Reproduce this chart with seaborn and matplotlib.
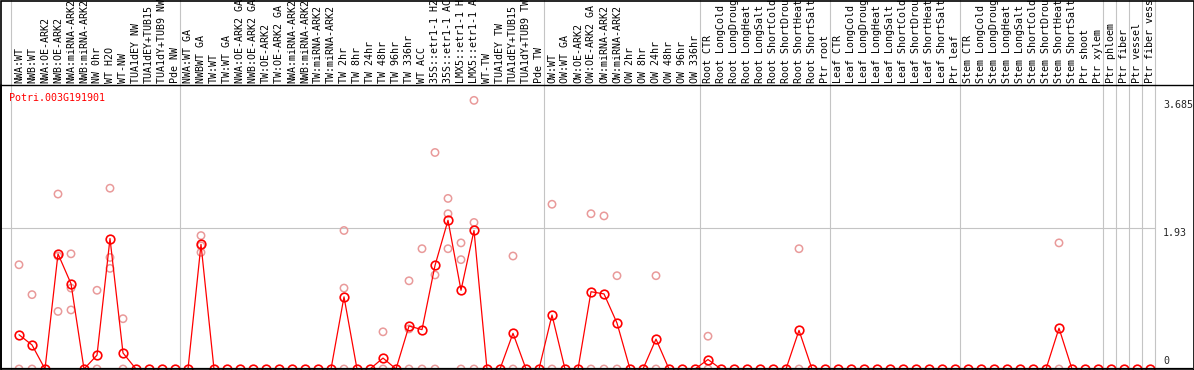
import seaborn as sns
import pandas as pd
import numpy as np
import matplotlib.pyplot as plt
from matplotlib import transforms

sns.set_style("white")
plt.rcParams['font.family'] = ['DejaVu Sans Mono']

# ============ data ============
gene = "Potri.003G191901"

labels = ["NWA:WT", "NWB:WT", "NWA:OE-ARK2", "NWB:OE-ARK2", "NWA:miRNA-ARK2",
          "NWB:miRNA-ARK2", "NW 0hr", "WT H2O", "WT-NW", "TUA1dEY NW",
          "TUA1dEY+TUB15", "TUA1dY+TUB9 NW", "Pde NW",
          "NWA:WT GA", "NWBWT GA", "TW:WT", "TW:WT GA", "NWA:OE-ARK2 GA",
          "NWB:OE-ARK2 GA", "TW:OE-ARK2", "TW:OE-ARK2 GA", "NWA:miRNA-ARK2",
          "NWB:miRNA-ARK2", "TW:miRNA-ARK2", "TW:miRNA-ARK2",
          "TW 2hr", "TW 8hr", "TW 24hr", "TW 48hr", "TW 96hr", "TW 336hr",
          "WT ACC", "35S::etr1-1 H2O", "35S::etr1-1 ACC", "LMX5::etr1-1 H2O",
          "LMX5::etr1-1 ACC", "WT-TW", "TUA1dEY TW", "TUA1dEY+TUB15",
          "TUA1dY+TUB9 TW", "Pde TW",
          "OW:WT", "OW:WT GA", "OW:OE-ARK2", "OW:OE-ARK2 GA", "OW:miRNA-ARK2",
          "OW:miRNA-ARK2", "OW 2hr", "OW 8hr", "OW 24hr", "OW 48hr", "OW 96hr",
          "OW 336hr",
          "Root CTR", "Root LongCold", "Root LongDrought", "Root LongHeat",
          "Root LongSalt", "Root ShortCold", "Root ShortDrought", "Root ShortHeat",
          "Root ShortSalt", "Ptr root",
          "Leaf CTR", "Leaf LongCold", "Leaf LongDrought", "Leaf LongHeat",
          "Leaf LongSalt", "Leaf ShortCold", "Leaf ShortDrought", "Leaf ShortHeat",
          "Leaf ShortSalt", "Ptr leaf",
          "Stem CTR", "Stem LongCold", "Stem LongDrought", "Stem LongHeat",
          "Stem LongSalt", "Stem ShortCold", "Stem ShortDrought", "Stem ShortHeat",
          "Stem ShortSalt", "Ptr shoot",
          "Ptr xylem", "Ptr phloem", "Ptr fiber", "Ptr vessel", "Ptr fiber vessel"]

means = [0.47, 0.33, 0, 1.58, 1.17, 0, 0.19, 1.79, 0.22, 0, 0, 0, 0,
         0, 1.71, 0, 0, 0, 0, 0, 0, 0, 0, 0, 0,
         0.99, 0, 0, 0.15, 0, 0.59, 0.54, 1.42, 2.04, 1.08, 1.90, 0, 0, 0.49, 0, 0,
         0.74, 0, 0, 1.06, 1.03, 0.63, 0, 0, 0.41, 0, 0, 0,
         0.13, 0, 0, 0, 0, 0, 0, 0.53, 0, 0,
         0, 0, 0, 0, 0, 0, 0, 0, 0, 0,
         0, 0, 0, 0, 0, 0, 0, 0.56, 0, 0,
         0, 0, 0, 0, 0]

# replicate values (column number, 1-based)
rep_cols = [1, 1, 2, 2, 4, 4, 4, 5, 5, 5, 7, 7, 8, 8, 8, 9, 9,
            15, 15, 15, 26, 26, 26, 29, 29, 31, 31, 31, 32, 32,
            33, 33, 33, 34, 34, 34, 35, 35, 35, 36, 36, 36, 39, 39,
            42, 42, 45, 45, 46, 46, 47, 47, 50, 50, 54, 54, 61, 61, 81, 81]
rep_vals = [1.43, 0, 1.02, 0, 2.40, 1.55, 0.79, 1.58, 1.11, 0.81, 1.08, 0,
            2.48, 1.53, 1.38, 0.69, 0,
            1.83, 1.69, 1.60, 1.90, 1.11, 0, 0.51, 0, 1.21, 0.55, 0, 1.65, 0,
            2.97, 1.29, 0, 2.34, 2.13, 1.65, 1.73, 1.50, 0, 3.685, 2.01, 0,
            1.55, 0, 2.26, 0, 2.13, 0, 2.10, 0, 1.28, 0, 1.28, 0, 0.45, 0,
            1.65, 0, 1.73, 0]

# last column (1-based) of each group
group_ends = [13, 41, 53, 63, 73, 84, 85, 86, 87, 88]
yvals = [0, 1.93, 3.685]

mean_df = pd.DataFrame({'pos': np.arange(len(means)), 'value': means})
rep_df = pd.DataFrame({'pos': np.array(rep_cols) - 1, 'value': rep_vals})

# ============ figure ============
W, H = 1194, 370
fig = plt.figure(figsize=(W / 100, H / 100), dpi=100)
top_px, bot_px = 85, 369
ax = fig.add_axes([1 / W, 1 - bot_px / H, 1192 / W, (bot_px - top_px) / H])

col0, step = 19, 13
ax.set_xlim((1 - col0) / step, (1193 - col0) / step)
ppu = 72.9
ax.set_ylim(0, (bot_px - top_px) / ppu)

grey = '#c4c4c4'
head = 1 + top_px / (bot_px - top_px)
sep_x = [-0.65] + [g - 1 + 0.4 for g in group_ends]
for sx in sep_x:
    ax.axvline(sx, 0, head, color=grey, lw=0.8, clip_on=False, zorder=0)
ax.hlines(yvals[1], ax.get_xlim()[0], sep_x[-1], color=grey, lw=0.8, zorder=0)

sns.scatterplot(data=rep_df, x='pos', y='value', ax=ax, marker='o', s=28,
                facecolor='none', edgecolor='#e99a9a', linewidth=1.1,
                zorder=2, legend=False)
sns.lineplot(data=mean_df, x='pos', y='value', ax=ax, color='red', lw=0.9,
             marker='o', markersize=6.2, markerfacecolor='none',
             markeredgecolor='red', markeredgewidth=1.2, zorder=3)

# header labels (long ones run off the top edge, as in the original)
tr = transforms.blended_transform_factory(ax.transData, ax.transAxes)
for i, lab in enumerate(labels):
    ax.text(i, 1 + 2 / (bot_px - top_px), lab, transform=tr, rotation=90,
            ha='center', va='bottom', fontsize=7.2, color='black')
ax.axhline(ax.get_ylim()[1], color='black', lw=1, clip_on=False)

# right value labels
xr = (1163 - col0) / step
ax.text(xr, yvals[2], "3.685", ha='left', va='top', fontsize=7.2)
ax.text(xr, yvals[1], "1.93", ha='left', va='top', fontsize=7.2)
ax.text(xr, yvals[0] + 0.04, "0", ha='left', va='bottom', fontsize=7.2)

ax.text(8 / 1192, 1 - 8 / (bot_px - top_px), gene, transform=ax.transAxes,
        ha='left', va='top', fontsize=7.2, color='red')

ax.set_xlabel('')
ax.set_ylabel('')
ax.set_xticks([])
ax.set_yticks([])
for s in ['top', 'right', 'left', 'bottom']:
    ax.spines[s].set_visible(False)
ax.axvline(ax.get_xlim()[0], color='black', lw=1.2, clip_on=False)
ax.axhline(0, color='black', lw=1.6, zorder=4)

# outer frame
fig.patches.append(plt.Rectangle((0.5 / W, 0.5 / H), 1 - 1 / W, 1 - 1 / H,
                                 transform=fig.transFigure, fill=False,
                                 edgecolor='black', lw=1.2))

fig.savefig('out.png', dpi=100)
